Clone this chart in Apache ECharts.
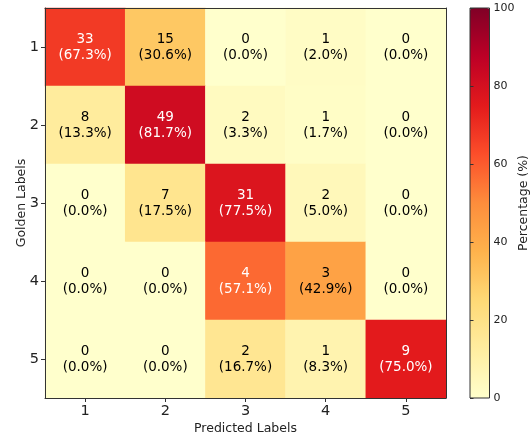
<!DOCTYPE html>
<html>
<head>
<meta charset="utf-8">
<script src="https://cdn.jsdelivr.net/npm/echarts@6/dist/echarts.min.js"></script>
<style>
  html, body { margin: 0; padding: 0; background: #fff; }
  #chart { width: 532px; height: 436px; }
</style>
</head>
<body>
<div id="chart"></div>
<script>
// Class labels for both axes
const predictedLabels = ['1', '2', '3', '4', '5'];
const goldenLabels = ['1', '2', '3', '4', '5'];

// Confusion counts, one row per golden label
const counts = [
  [33, 15, 0, 1, 0],
  [8, 49, 2, 1, 0],
  [0, 7, 31, 2, 0],
  [0, 0, 4, 3, 0],
  [0, 0, 2, 1, 9]
];

// Row-normalised percentages
const percents = [
  [67.3, 30.6, 0.0, 2.0, 0.0],
  [13.3, 81.7, 3.3, 1.7, 0.0],
  [0.0, 17.5, 77.5, 5.0, 0.0],
  [0.0, 0.0, 57.1, 42.9, 0.0],
  [0.0, 0.0, 16.7, 8.3, 75.0]
];

// Colour bar ticks
const colorbarTicks = [0, 20, 40, 60, 80, 100];

const FONT = 'DejaVu Sans';
const YlOrRd = ['#ffffcc', '#ffeda0', '#fed976', '#feb24c', '#fd8d3c',
                '#fc4e2a', '#e31a1c', '#bd0026', '#800026'];

const cells = [];
goldenLabels.forEach((g, r) => {
  predictedLabels.forEach((p, c) => {
    cells.push({
      value: [c, r, percents[r][c], counts[r][c]],
      label: { color: percents[r][c] > 50 ? '#ffffff' : '#000000' }
    });
  });
});

const plot = { left: 45, top: 8, width: 401, height: 390 };
const bar = { left: 470, top: 8, width: 19.5, height: 390 };

const chart = echarts.init(document.getElementById('chart'), null, { renderer: 'canvas' });

chart.setOption({
  animation: false,
  textStyle: { fontFamily: FONT },
  grid: [
    { left: plot.left, top: plot.top, width: plot.width, height: plot.height,
      containLabel: false, outerBoundsMode: 'none' },
    { left: bar.left, top: bar.top, width: bar.width, height: bar.height,
      containLabel: false, outerBoundsMode: 'none',
      show: true, borderColor: '#333', borderWidth: 1, backgroundColor: 'transparent', z: 10 }
  ],
  xAxis: [
    {
      type: 'category', data: predictedLabels, gridIndex: 0, position: 'bottom',
      name: 'Predicted Labels', nameLocation: 'middle', nameGap: 24, nameMoveOverlap: false,
      nameTextStyle: { fontSize: 12.5, color: '#222', fontFamily: FONT },
      axisLine: { show: true, lineStyle: { color: '#333', width: 1 } },
      axisTick: { show: true, alignWithLabel: true, length: 4, lineStyle: { color: '#333' } },
      axisLabel: { fontSize: 14.5, color: '#222', margin: 6, fontFamily: FONT },
      splitLine: { show: false }, z: 10
    },
    {
      type: 'category', data: predictedLabels, gridIndex: 0, position: 'top',
      axisLine: { show: true, lineStyle: { color: '#333', width: 1 } },
      axisTick: { show: false }, axisLabel: { show: false }, splitLine: { show: false }, z: 10
    },
    { type: 'value', gridIndex: 1, show: false, min: 0, max: 1 }
  ],
  yAxis: [
    {
      type: 'category', data: goldenLabels, gridIndex: 0, inverse: true, position: 'left',
      name: 'Golden Labels', nameLocation: 'middle', nameGap: 17, nameRotate: 90, nameMoveOverlap: false,
      nameTextStyle: { fontSize: 12.5, color: '#222', fontFamily: FONT },
      axisLine: { show: true, lineStyle: { color: '#333', width: 1 } },
      axisTick: { show: true, alignWithLabel: true, length: 4, lineStyle: { color: '#333' } },
      axisLabel: { fontSize: 14.5, color: '#222', margin: 6, fontFamily: FONT },
      splitLine: { show: false }, z: 10
    },
    {
      type: 'category', data: goldenLabels, gridIndex: 0, inverse: true, position: 'right',
      axisLine: { show: true, lineStyle: { color: '#333', width: 1 } },
      axisTick: { show: false }, axisLabel: { show: false }, splitLine: { show: false }, z: 10
    },
    {
      type: 'value', gridIndex: 1, position: 'right',
      min: colorbarTicks[0], max: colorbarTicks[colorbarTicks.length - 1], interval: 20,
      name: 'Percentage (%)', nameLocation: 'middle', nameGap: 28, nameRotate: 90, nameMoveOverlap: false,
      nameTextStyle: { fontSize: 12.5, color: '#222', fontFamily: FONT },
      axisLine: { show: false },
      axisTick: { show: true, length: 3.5, lineStyle: { color: '#333' } },
      axisLabel: { fontSize: 11, color: '#222', margin: 4, fontFamily: FONT },
      splitLine: { show: false }, z: 10
    }
  ],
  visualMap: {
    type: 'continuous', min: 0, max: 100, dimension: 2, seriesIndex: 0,
    orient: 'vertical', left: bar.left, top: bar.top,
    itemWidth: bar.width, itemHeight: bar.height, padding: 0,
    calculable: false, hoverLink: false,
    inRange: { color: YlOrRd }
  },
  series: [{
    type: 'heatmap',
    xAxisIndex: 0, yAxisIndex: 0,
    data: cells,
    label: {
      show: true,
      fontFamily: FONT,
      fontSize: 13.5,
      lineHeight: 16,
      formatter: p => p.value[3] + '\n(' + p.value[2].toFixed(1) + '%)'
    },
    itemStyle: { borderWidth: 0 },
    emphasis: { disabled: true }
  }]
});
</script>
</body>
</html>
